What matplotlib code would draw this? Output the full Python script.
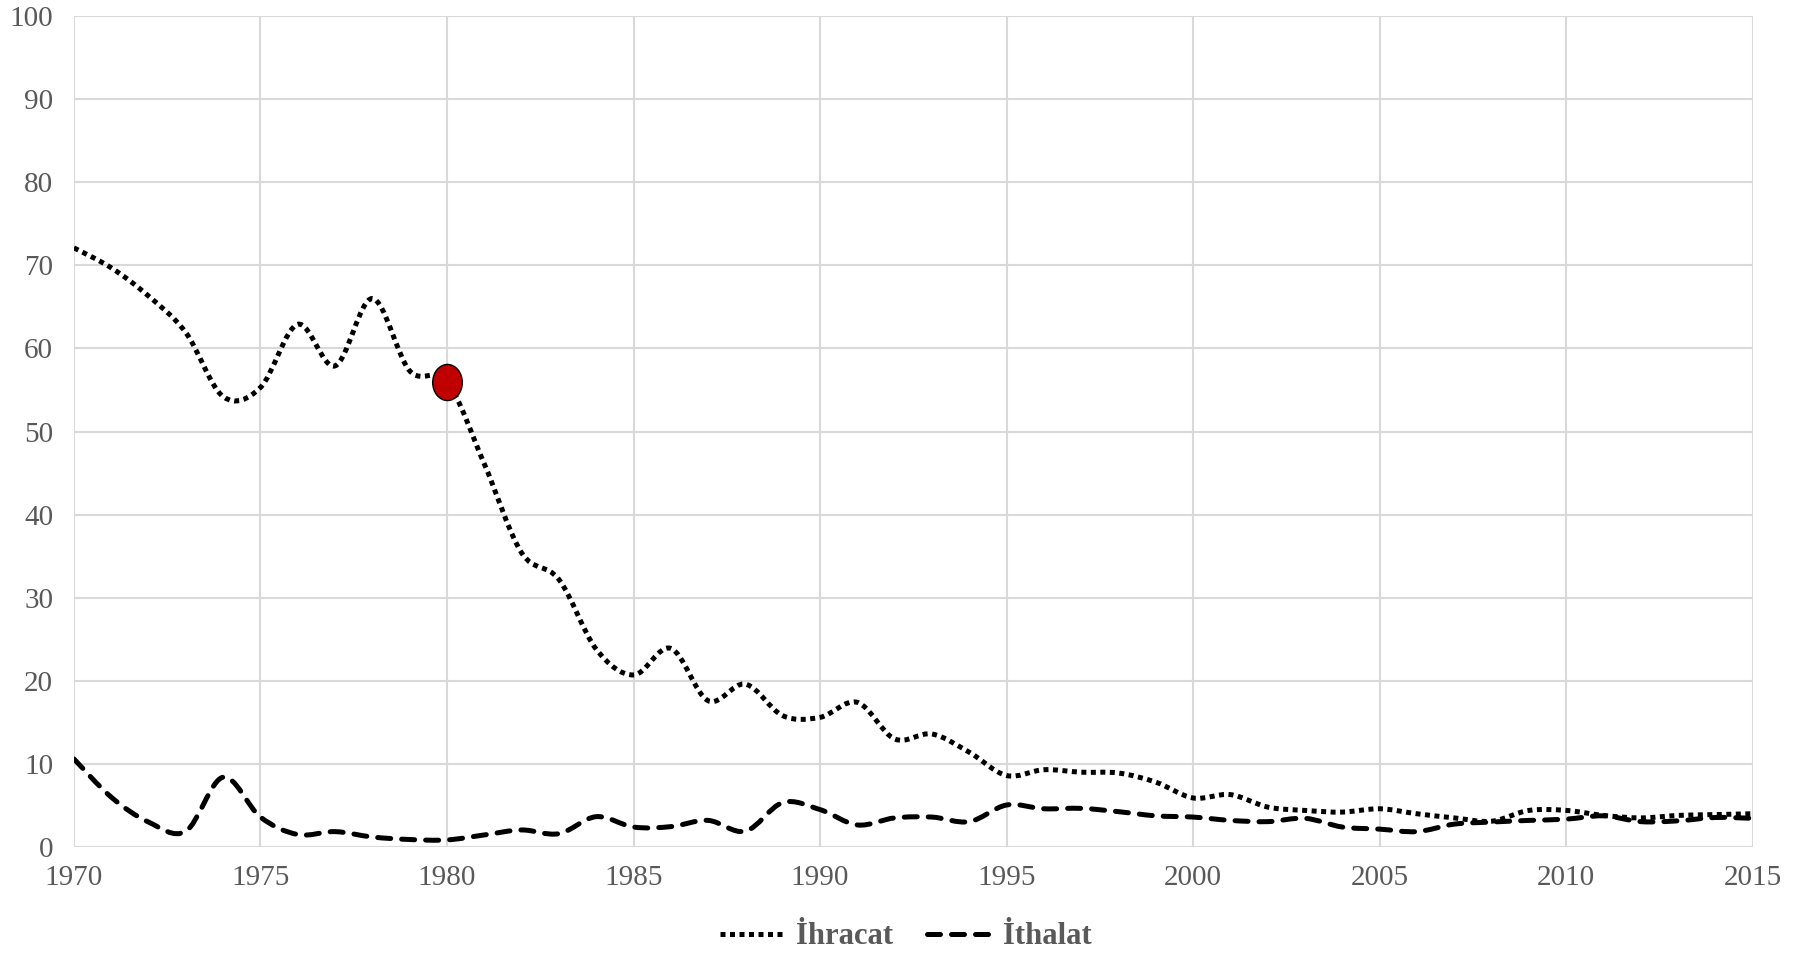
import matplotlib
matplotlib.use("Agg")
import matplotlib.pyplot as plt
import numpy as np
from matplotlib.path import Path
from matplotlib.patches import PathPatch
from matplotlib.lines import Line2D

years = list(range(1970, 2016))
ihracat = [72.1, 69.7, 66.3, 61.9, 54.2, 55.3, 62.9, 57.9, 66.0, 57.3,
           56.0, 46.1, 35.4, 32.2, 23.8, 20.7, 23.9, 17.6, 19.6, 15.8,
           15.6, 17.4, 13.0, 13.6, 11.4, 8.6, 9.3, 9.0, 8.9, 7.8,
           5.9, 6.3, 4.8, 4.4, 4.2, 4.6, 4.0, 3.5, 3.1, 4.4,
           4.4, 3.8, 3.5, 3.8, 3.9, 4.0]
ithalat = [10.6, 6.0, 3.0, 1.9, 8.4, 3.6, 1.5, 1.85, 1.2, 0.9,
           0.85, 1.45, 2.05, 1.6, 3.65, 2.4, 2.45, 3.2, 1.9, 5.35,
           4.5, 2.65, 3.5, 3.6, 3.05, 5.05, 4.6, 4.65, 4.25, 3.75,
           3.6, 3.2, 3.05, 3.45, 2.4, 2.15, 1.85, 2.75, 3.0, 3.2,
           3.35, 3.75, 3.05, 3.15, 3.55, 3.45]
highlight_year = 1980
highlight_value = 56.0
series_names = ["İhracat", "İthalat"]
x_ticks = list(range(1970, 2016, 5))
y_ticks = list(range(0, 101, 10))

plt.rcParams['font.family'] = ['Liberation Serif', 'DejaVu Serif']

fig = plt.figure(figsize=(17.94, 9.59), dpi=100)
ax = fig.add_axes([0.0412, 0.1168, 0.9358, 0.8665])

def smooth_path(xs, ys):
    xs = np.asarray(xs, float); ys = np.asarray(ys, float)
    n = len(xs)
    verts = [(xs[0], ys[0])]
    codes = [Path.MOVETO]
    for i in range(n - 1):
        p0 = np.array([xs[max(i - 1, 0)], ys[max(i - 1, 0)]])
        p1 = np.array([xs[i], ys[i]])
        p2 = np.array([xs[i + 1], ys[i + 1]])
        p3 = np.array([xs[min(i + 2, n - 1)], ys[min(i + 2, n - 1)]])
        c1 = p1 + (p2 - p0) / 6.0
        c2 = p2 - (p3 - p1) / 6.0
        verts += [tuple(c1), tuple(c2), tuple(p2)]
        codes += [Path.CURVE4] * 3
    return Path(verts, codes)

lw = 3.6
dot_ls = (0, (1, 0.9))
dash_ls = (0, (2.6, 2.2))

p1 = PathPatch(smooth_path(years, ihracat), fill=False, edgecolor='black',
               linewidth=lw, linestyle=dot_ls, capstyle='butt', zorder=3)
p2 = PathPatch(smooth_path(years, ithalat), fill=False, edgecolor='black',
               linewidth=lw, linestyle=dash_ls, capstyle='round', zorder=3)
ax.add_patch(p1)
ax.add_patch(p2)

# elliptical marker
circ = Path.unit_circle()
ell = Path(circ.vertices * np.array([0.82, 1.0]), circ.codes)
ax.plot([highlight_year], [highlight_value], linestyle='none', marker=ell,
        markersize=26, markerfacecolor='#c00000', markeredgecolor='black',
        markeredgewidth=1.0, zorder=5)

ax.set_xlim(1970, 2015)
ax.set_ylim(0, 100)
ax.set_xticks(x_ticks)
ax.set_yticks(y_ticks)
ax.grid(True, color='#d9d9d9', linewidth=1.5)
ax.set_axisbelow(True)
for s in ax.spines.values():
    s.set_visible(False)
ax.tick_params(axis='both', length=0, labelsize=21, labelcolor='#595959')
ax.tick_params(axis='y', pad=15)
ax.tick_params(axis='x', pad=13)

handles = [Line2D([0], [0], color='black', linewidth=lw, linestyle=dot_ls, dash_capstyle='butt'),
           Line2D([0], [0], color='black', linewidth=lw, linestyle=dash_ls, dash_capstyle='round')]
leg = fig.legend(handles, series_names, loc='center', bbox_to_anchor=(0.505, 0.023),
                 ncol=2, frameon=False, handlelength=2.1, handletextpad=0.4,
                 columnspacing=1.1, prop={'family': ['Liberation Serif'], 'weight': 'bold', 'size': 22})
for t in leg.get_texts():
    t.set_color('#595959')

fig.savefig('out.png', dpi=100)
